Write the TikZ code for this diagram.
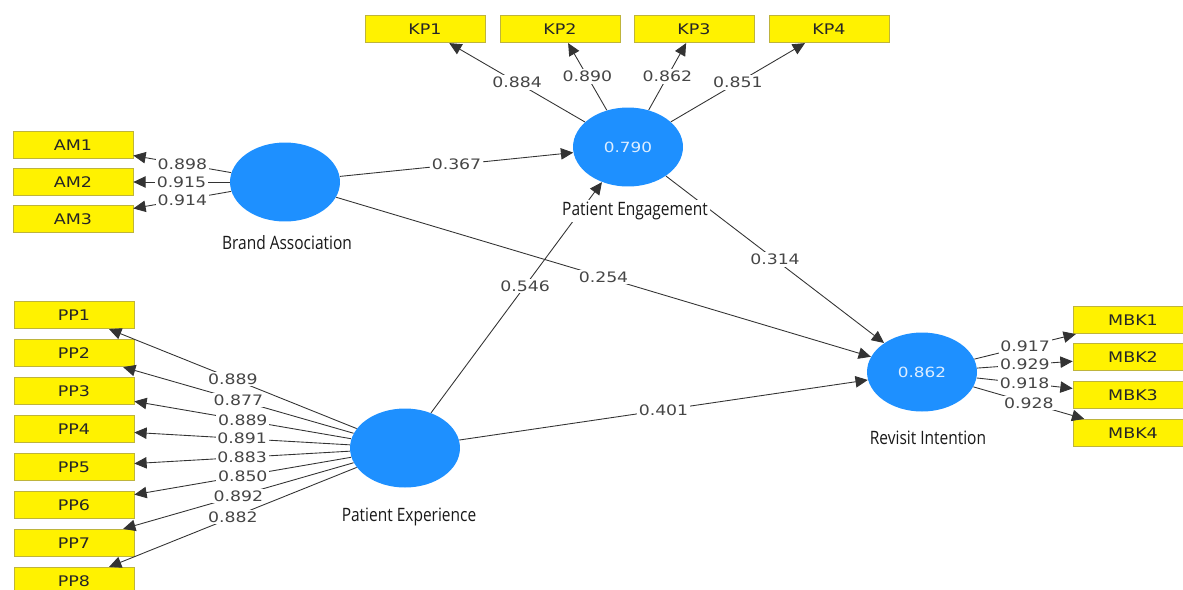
\documentclass[tikz,border=0pt]{standalone}
\usepackage{fontspec}
\newfontfamily\numfont[FakeStretch=1.2]{DejaVu Sans}
\newfontfamily\lvfont[FakeStretch=0.84]{Open Sans}
\usetikzlibrary{shapes.geometric,arrows.meta}
\definecolor{indyellow}{RGB}{255,242,0}
\definecolor{indedge}{RGB}{190,180,60}
\definecolor{lvblue}{RGB}{30,144,255}
\definecolor{numgray}{RGB}{70,70,70}

\begin{document}
\begin{tikzpicture}[x=0.02cm, y=-0.02cm,
    indbox/.style={draw=indedge, fill=indyellow, minimum width=2.4cm, minimum height=0.55cm,
      inner sep=0pt, text=black!85, font=\numfont\fontsize{8.3}{9}\selectfont},
    lv/.style={ellipse, fill=lvblue, minimum width=2.2cm, minimum height=1.58cm, inner sep=0pt,
      text=white!85!lvblue, font=\numfont\fontsize{8}{9}\selectfont},
    lvlabel/.style={fill=white, inner sep=1pt, text=black!90, font=\lvfont\fontsize{10.5}{12}\selectfont},
    load/.style={-{Triangle[length=7pt,width=6.5pt]}, draw=black!80, line width=0.5pt},
    coef/.style={fill=white, inner sep=1pt, text=numgray, font=\numfont\fontsize{8.2}{9}\selectfont}]
    \useasboundingbox (0,0) rectangle (1183,589);

    % indicators
    \foreach \i/\y in {1/145,2/182,3/219}
      \node[indbox] (am\i) at (73,\y) {AM\i};
    \foreach \i/\x in {1/425,2/560,3/694,4/829}
      \node[indbox] (kp\i) at (\x,29) {KP\i};
    \foreach \i in {1,...,8}
      \node[indbox] (pp\i) at (74,{277+38*\i}) {PP\i};
    \foreach \i/\y in {1/320,2/357,3/395,4/433}
      \node[indbox] (mbk\i) at (1133,\y) {MBK\i};

    % constructs
    \node[lv] (ba) at (285,182) {};
    \node[lv] (pen) at (628,147) {0.790};
    \node[lv] (pex) at (405,448) {};
    \node[lv] (ri) at (922,372) {0.862};

    % outer loadings
    \foreach \i/\v in {1/0.898,2/0.915,3/0.914}
      \draw[load] (ba) -- node[coef] {\v} (am\i);
    \foreach \i/\v in {1/0.884,2/0.890,3/0.862,4/0.851}
      \draw[load] (pen) -- node[coef] {\v} (kp\i);
    \foreach \i/\v in {1/0.889,2/0.877,3/0.889,4/0.891,5/0.883,6/0.850,7/0.892,8/0.882}
      \draw[load] (pex) -- node[coef] {\v} (pp\i);
    \foreach \i/\v in {1/0.917,2/0.929,3/0.918,4/0.928}
      \draw[load] (ri) -- node[coef] {\v} (mbk\i);

    % path coefficients
    \draw[load] (ba) -- node[coef] {0.367} (pen);
    \draw[load] (ba) -- node[coef] {0.254} (ri);
    \draw[load] (pex) -- node[coef, pos=0.55] {0.546} (pen);
    \draw[load] (pen) -- node[coef] {0.314} (ri);
    \draw[load] (pex) -- node[coef] {0.401} (ri);

    % construct names
    \node[lvlabel] (balabel) at (287,243) {Brand Association};
    \node[lvlabel] (penlabel) at (635,211) {Patient Engagement};
    \node[lvlabel] (pexlabel) at (409,517) {Patient Experience};
    \node[lvlabel] (rilabel) at (928,438) {Revisit Intention};
\end{tikzpicture}
\end{document}
